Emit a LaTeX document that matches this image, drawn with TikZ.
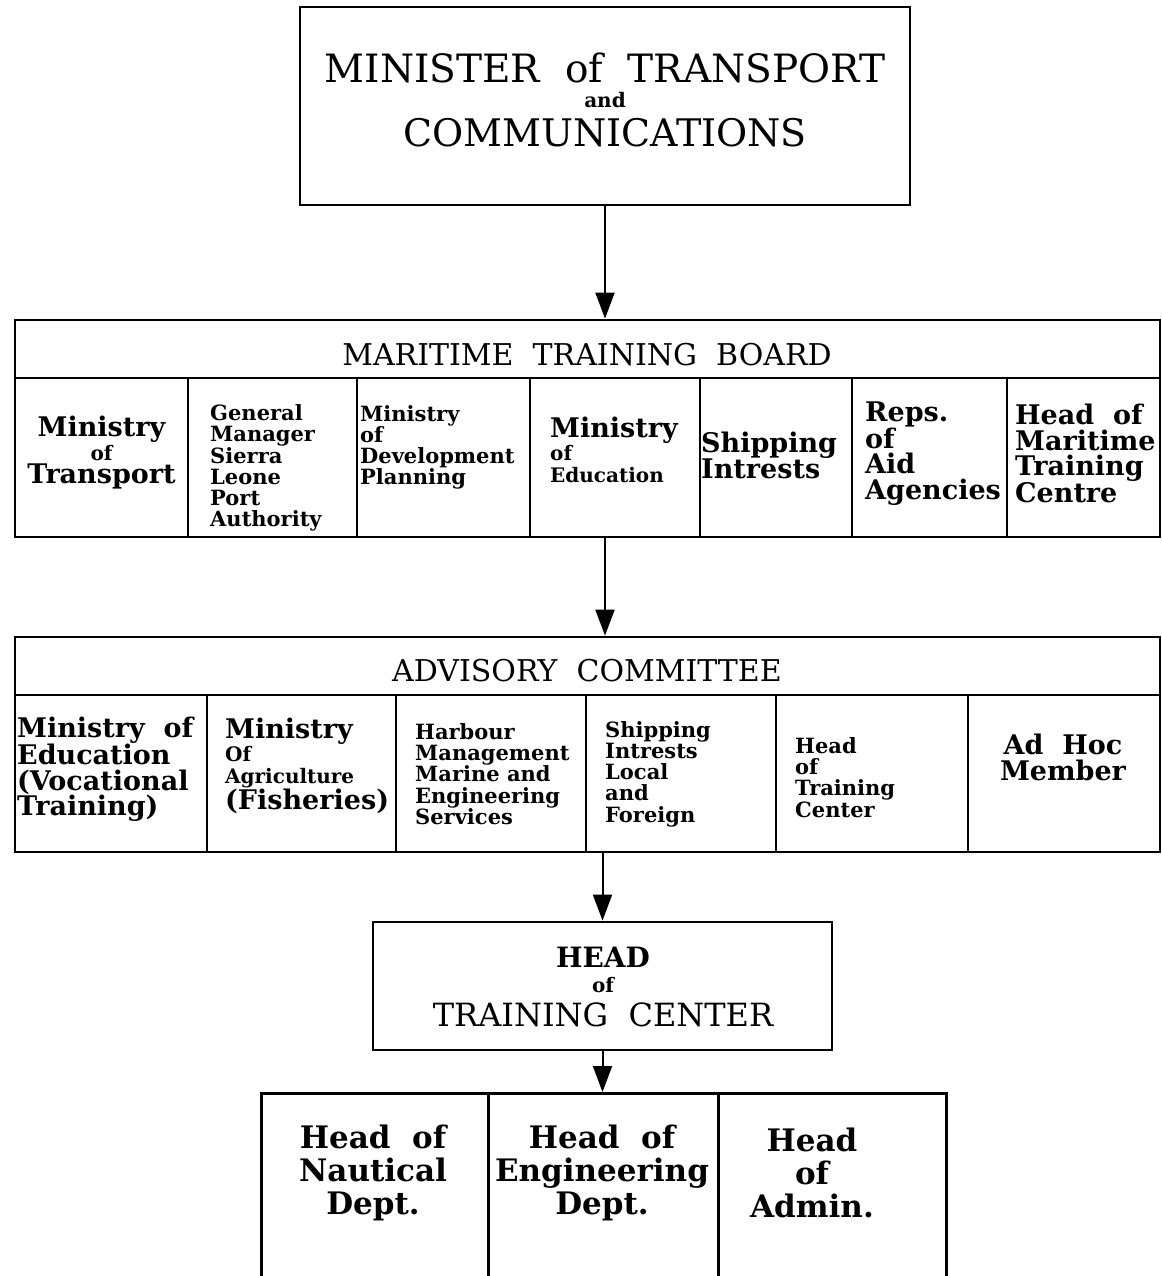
\documentclass[tikz,border=0pt]{standalone}
\usepackage{fontspec}
\setmainfont{DejaVu Serif}
\usetikzlibrary{arrows.meta}

\newcommand{\smtxt}{\fontsize{20}{21}\selectfont}

\tikzset{
  orgbox/.style={draw, line width=2.8pt, inner sep=0pt},
  rowrule/.style={line width=2.8pt},
  flow/.style={line width=2pt, -{Triangle[length=26pt,width=19pt]}},
  toptxt/.style={font=\fontsize{39}{40}\selectfont, inner sep=0pt},
  headtxt/.style={font=\fontsize{30}{32}\selectfont, inner sep=0pt},
  smallcell/.style={font=\bfseries\fontsize{21}{21.2}\selectfont, align=left, anchor=west, inner sep=0pt},
  bigcell/.style={font=\bfseries\fontsize{27}{25.5}\selectfont, align=left, anchor=west, inner sep=0pt},
  deptxt/.style={font=\bfseries\fontsize{31}{33}\selectfont, align=center, inner sep=0pt}
}

\begin{document}
\begin{tikzpicture}[x=1pt,y=-1pt]
        \useasboundingbox (0,0) rectangle (1161,1276);
        % minister
        \node[orgbox, minimum width=610pt, minimum height=198pt] (mot) at (605,106) {};
        \node[toptxt] (motA) at (605,68) {MINISTER\ \ of\ \ TRANSPORT};
        \node[font=\bfseries\smtxt, inner sep=0pt] (motB) at (605,100) {and};
        \node[toptxt, font=\fontsize{38}{40}\selectfont] (motC) at (605,133) {COMMUNICATIONS};
        % maritime training board
        \node[orgbox, minimum width=1145pt, minimum height=217pt] (mtb) at (587.5,428.5) {};
        \node[headtxt] (mtbH) at (587,355) {MARITIME\ \ TRAINING\ \ BOARD};
        \draw[rowrule] (15,378) -- (1160,378);
        \foreach \x in {188,357,530,700,852,1007}
            \draw[rowrule] (\x,378) -- (\x,537);
        \node[bigcell, align=center, anchor=center, font=\bfseries\fontsize{27}{23.5}\selectfont] (mtb1) at (101.5,453) {Ministry\\{\smtxt of}\\Transport};
        \node[smallcell] (mtb2) at (210,468) {General\\Manager\\Sierra\\Leone\\Port\\Authority};
        \node[smallcell] (mtb3) at (360,447.5) {Ministry\\of\\Development\\Planning};
        \node[bigcell, font=\bfseries\fontsize{27}{22.5}\selectfont] (mtb4) at (550,450) {Ministry\\{\smtxt of}\\{\smtxt Education}};
        \node[bigcell] (mtb5) at (701,455.5) {Shipping\\Intrests};
        \node[bigcell] (mtb6) at (865,453.5) {Reps.\\of\\Aid\\Agencies};
        \node[bigcell] (mtb7) at (1015,453.5) {Head\ \ of\\Maritime\\Training\\Centre};
        % advisory committee
        \node[orgbox, minimum width=1145pt, minimum height=215pt] (adv) at (587.5,744.5) {};
        \node[headtxt] (advH) at (587,671) {ADVISORY\ \ COMMITTEE};
        \draw[rowrule] (15,695) -- (1160,695);
        \foreach \x in {207,396,586,776,968}
            \draw[rowrule] (\x,695) -- (\x,852);
        \node[bigcell] (adv1) at (17,769) {Ministry\ \ of\\Education\\(Vocational\\Training)};
        \node[bigcell, font=\bfseries\fontsize{27}{22.7}\selectfont] (adv2) at (225,766) {Ministry\\{\smtxt Of}\\{\smtxt Agriculture}\\(Fisheries)};
        \node[smallcell] (adv3) at (415,774) {Harbour\\Management\\Marine and\\Engineering\\Services};
        \node[smallcell] (adv4) at (605,774) {Shipping\\Intrests\\Local\\and\\Foreign};
        \node[smallcell] (adv5) at (795,777.5) {Head\\of\\Training\\Center};
        \node[bigcell, align=center, anchor=center] (adv6) at (1063,757.5) {Ad\ \ Hoc\\Member};
        % head of training center
        \node[orgbox, minimum width=459pt, minimum height=128pt] (htc) at (602.5,986) {};
        \node[headtxt, font=\bfseries\fontsize{28}{30}\selectfont] (htcA) at (603,957) {HEAD};
        \node[font=\bfseries\smtxt, inner sep=0pt] (htcB) at (603,985) {of};
        \node[headtxt, font=\fontsize{32}{32}\selectfont] (htcC) at (603,1015) {TRAINING\ \ CENTER};
        % departments
        \node[orgbox, minimum width=227pt, minimum height=230pt, anchor=north west] (nd) at (260,1092) {};
        \node[orgbox, minimum width=230pt, minimum height=230pt, anchor=north west] (ed) at (487,1092) {};
        \node[orgbox, minimum width=228pt, minimum height=230pt, anchor=north west] (ad) at (717,1092) {};
        \node[deptxt] (ndT) at (373,1173) {Head\ \ of\\Nautical\\Dept.};
        \node[deptxt] (edT) at (602,1173) {Head\ \ of\\Engineering\\Dept.};
        \node[deptxt] (adT) at (812,1173) {Head\\of\\Admin.};
        % arrows
        \draw[flow] (mot.south) -- (mot.south |- mtb.north);
        \draw[flow] (mot.south |- mtb.south) -- (mot.south |- adv.north);
        \draw[flow] (htc.north |- adv.south) -- (htc.north);
        \draw[flow] (htc.south) -- (htc.south |- ed.north);
\end{tikzpicture}
\end{document}
